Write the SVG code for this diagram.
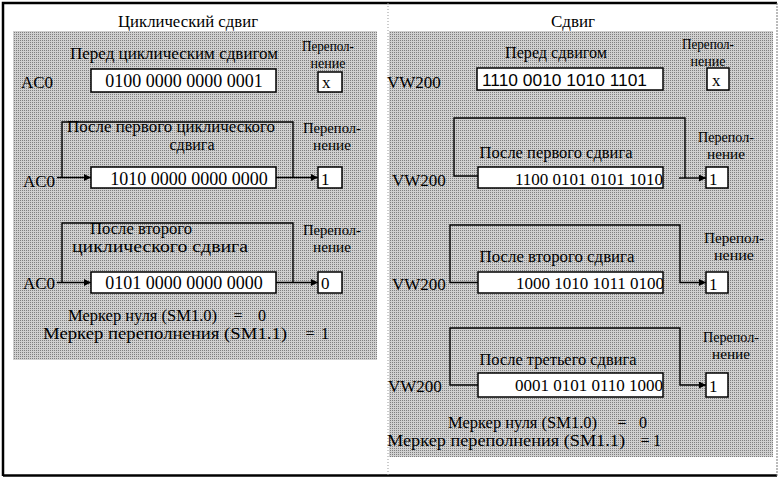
<svg xmlns="http://www.w3.org/2000/svg" width="780" height="478" viewBox="0 0 780 478">
  <defs>
    <pattern id="stipple" width="2" height="2" patternUnits="userSpaceOnUse">
      <rect width="2" height="2" fill="#d0d0d0"/>
      <rect width="1" height="1" fill="#808080"/>
    </pattern>
    <marker id="arr" viewBox="0 0 10 10" refX="10" refY="5" markerWidth="10" markerHeight="7" markerUnits="userSpaceOnUse" orient="auto">
      <path d="M0,0 L10,5 L0,10 z" fill="#000"/>
    </marker>
    <clipPath id="clipR2"><rect x="478" y="167" width="185" height="21"/></clipPath>
    <clipPath id="clipR3"><rect x="478" y="272" width="185" height="21"/></clipPath>
    <clipPath id="clipR4"><rect x="478" y="373" width="185" height="24"/></clipPath>
  </defs>
  <style>
    text { font-family: "Liberation Serif", "Times New Roman", serif; fill: #000; }
    .t { font-size: 17px; }
    .lbl { font-size: 17px; }
    .lbl2 { font-size: 16px; }
    .ovf { font-size: 15px; }
    .reg { font-size: 17px; }
    .bits { font-size: 18px; }
    .bits2 { font-size: 17px; }
    .sans { font-family: "Liberation Sans", Arial, sans-serif; font-size: 17px; }
    .panel { fill: url(#stipple); }
    .box { fill: #fff; stroke: #000; stroke-width: 1.5; }
    .wire { fill: none; stroke: #000; stroke-width: 1.4; }
    .frame { fill: none; stroke: #000; stroke-width: 2.5; }
  </style>

  <rect width="780" height="478" fill="#fff"/>

  <!-- outer frame and divider -->
  <path class="frame" d="M3,476 V3 H777"/>
  <path class="frame" d="M3,475.5 H777"/>
  <path d="M777,3 V476" stroke="#777" stroke-width="1" stroke-dasharray="2 1" fill="none"/>
  <path d="M388,3 V476" stroke="#999" stroke-width="1" stroke-dasharray="1 2" fill="none"/>

  <!-- stippled panels -->
  <rect class="panel" x="13" y="31" width="364" height="329"/>
  <rect class="panel" x="389" y="31" width="384" height="426"/>

  <!-- titles -->
  <text class="t" x="188" y="27" text-anchor="middle" textLength="140" lengthAdjust="spacingAndGlyphs">Циклический сдвиг</text>
  <text class="t" x="573" y="27" text-anchor="middle">Сдвиг</text>

  <!-- connectors -->
  <g id="connectors">
    <!-- rotate: first step -->
    <path class="wire" d="M57,177.5 H91" marker-end="url(#arr)"/>
    <path class="wire" d="M62,177.5 V122 H293 V177.5"/>
    <path class="wire" d="M276,177.5 H318" marker-end="url(#arr)"/>
    <!-- rotate: second step -->
    <path class="wire" d="M57,282.5 H91" marker-end="url(#arr)"/>
    <path class="wire" d="M62,282.5 V223 H293 V282.5"/>
    <path class="wire" d="M276,282.5 H318" marker-end="url(#arr)"/>
    <!-- shift: first step -->
    <path class="wire" d="M478,176 H454 V118 H685 V178"/>
    <path class="wire" d="M679,178 H706" marker-end="url(#arr)"/>
    <!-- shift: second step -->
    <path class="wire" d="M478,282.5 H450 V225 H680 V282.5 H706" marker-end="url(#arr)"/>
    <!-- shift: third step -->
    <path class="wire" d="M478,385 H450 V328 H680 V385 H706" marker-end="url(#arr)"/>
  </g>

  <!-- rotate: initial state -->
  <g id="rot-before">
    <text class="lbl" x="174" y="59" text-anchor="middle" textLength="208" lengthAdjust="spacingAndGlyphs">Перед циклическим сдвигом</text>
    <text class="reg" x="21" y="88">AC0</text>
    <rect class="box" x="91" y="69" width="185" height="23"/>
    <text class="bits" x="184" y="87" text-anchor="middle">0100 0000 0000 0001</text>
  </g>
  <g id="rot-before-ovf">
    <text class="ovf" x="328" y="51" text-anchor="middle" textLength="52" lengthAdjust="spacingAndGlyphs">Перепол-</text>
    <text class="ovf" x="328" y="68" text-anchor="middle" textLength="35" lengthAdjust="spacingAndGlyphs">нение</text>
    <rect class="box" x="318" y="72" width="24" height="20"/>
    <text class="reg" x="322" y="88">x</text>
  </g>

  <!-- rotate: after first -->
  <g id="rot-1">
    <text class="lbl2" x="171" y="132" text-anchor="middle" textLength="208" lengthAdjust="spacingAndGlyphs">После первого циклического</text>
    <text class="lbl2" x="192" y="150" text-anchor="middle">сдвига</text>
    <text class="reg" x="23" y="187">AC0</text>
    <rect class="box" x="91" y="167" width="185" height="21"/>
    <text class="bits" x="189" y="185" text-anchor="middle">1010 0000 0000 0000</text>
  </g>
  <g id="rot-1-ovf">
    <text class="ovf" x="332" y="133" text-anchor="middle" textLength="58" lengthAdjust="spacingAndGlyphs">Перепол-</text>
    <text class="ovf" x="332" y="150" text-anchor="middle" textLength="38" lengthAdjust="spacingAndGlyphs">нение</text>
    <rect class="box" x="318" y="167" width="24" height="21"/>
    <text class="reg" x="321" y="185">1</text>
  </g>

  <!-- rotate: after second -->
  <g id="rot-2">
    <text class="lbl2" x="141" y="234" text-anchor="middle" textLength="102" lengthAdjust="spacingAndGlyphs">После второго</text>
    <text class="lbl2" x="160" y="252" text-anchor="middle" textLength="176" lengthAdjust="spacingAndGlyphs">циклического сдвига</text>
    <text class="reg" x="23" y="289">AC0</text>
    <rect class="box" x="91" y="272" width="185" height="21"/>
    <text class="bits" x="184" y="289" text-anchor="middle">0101 0000 0000 0000</text>
  </g>
  <g id="rot-2-ovf">
    <text class="ovf" x="332" y="235" text-anchor="middle" textLength="58" lengthAdjust="spacingAndGlyphs">Перепол-</text>
    <text class="ovf" x="332" y="252" text-anchor="middle" textLength="38" lengthAdjust="spacingAndGlyphs">нение</text>
    <rect class="box" x="318" y="272" width="24" height="21"/>
    <text class="reg" x="321" y="289">0</text>
  </g>

  <!-- rotate: flags -->
  <g id="rot-flags">
    <text class="lbl2" x="68" y="321" textLength="149" lengthAdjust="spacingAndGlyphs">Меркер нуля (SM1.0)</text>
    <text class="lbl2" x="238" y="321" text-anchor="middle">=</text>
    <text class="lbl2" x="262" y="321" text-anchor="middle">0</text>
    <text class="lbl2" x="43" y="339" textLength="244" lengthAdjust="spacingAndGlyphs">Меркер переполнения (SM1.1)</text>
    <text class="lbl2" x="310" y="339" text-anchor="middle">=</text>
    <text class="lbl2" x="325" y="339" text-anchor="middle">1</text>
  </g>

  <!-- shift: initial state -->
  <g id="sh-before">
    <text class="lbl" x="556" y="58" text-anchor="middle" textLength="102" lengthAdjust="spacingAndGlyphs">Перед сдвигом</text>
    <text class="reg" x="387" y="88">VW200</text>
    <rect class="box" x="477" y="68" width="186" height="22"/>
    <text class="sans" x="482" y="86" textLength="165" lengthAdjust="spacingAndGlyphs">1110 0010 1010 1101</text>
  </g>
  <g id="sh-before-ovf">
    <text class="ovf" x="708" y="49" text-anchor="middle" textLength="52" lengthAdjust="spacingAndGlyphs">Перепол-</text>
    <text class="ovf" x="708" y="66" text-anchor="middle" textLength="35" lengthAdjust="spacingAndGlyphs">нение</text>
    <rect class="box" x="707" y="68" width="22" height="22"/>
    <text class="reg" x="712" y="86">x</text>
  </g>

  <!-- shift: after first -->
  <g id="sh-1">
    <text class="lbl" x="556" y="158" text-anchor="middle" textLength="153" lengthAdjust="spacingAndGlyphs">После первого сдвига</text>
    <text class="reg" x="392" y="186">VW200</text>
    <rect class="box" x="478" y="167" width="185" height="21"/>
    <text class="bits2" x="515" y="185" clip-path="url(#clipR2)">1100 0101 0101 1010</text>
  </g>
  <g id="sh-1-ovf">
    <text class="ovf" x="726" y="142" text-anchor="middle" textLength="56" lengthAdjust="spacingAndGlyphs">Перепол-</text>
    <text class="ovf" x="726" y="159" text-anchor="middle" textLength="38" lengthAdjust="spacingAndGlyphs">нение</text>
    <rect class="box" x="706" y="167" width="22" height="21"/>
    <text class="reg" x="709" y="185">1</text>
  </g>

  <!-- shift: after second -->
  <g id="sh-2">
    <text class="lbl" x="557" y="262" text-anchor="middle" textLength="155" lengthAdjust="spacingAndGlyphs">После второго сдвига</text>
    <text class="reg" x="392" y="290">VW200</text>
    <rect class="box" x="478" y="272" width="185" height="21"/>
    <text class="bits2" x="516" y="289" clip-path="url(#clipR3)">1000 1010 1011 0100</text>
  </g>
  <g id="sh-2-ovf">
    <text class="ovf" x="734" y="243" text-anchor="middle" textLength="60" lengthAdjust="spacingAndGlyphs">Перепол-</text>
    <text class="ovf" x="734" y="260" text-anchor="middle" textLength="40" lengthAdjust="spacingAndGlyphs">нение</text>
    <rect class="box" x="706" y="272" width="22" height="21"/>
    <text class="reg" x="709" y="290">1</text>
  </g>

  <!-- shift: after third -->
  <g id="sh-3">
    <text class="lbl" x="558" y="365" text-anchor="middle" textLength="157" lengthAdjust="spacingAndGlyphs">После третьего сдвига</text>
    <text class="reg" x="388" y="392">VW200</text>
    <rect class="box" x="478" y="373" width="185" height="24"/>
    <text class="bits2" x="515" y="391" clip-path="url(#clipR4)">0001 0101 0110 1000</text>
  </g>
  <g id="sh-3-ovf">
    <text class="ovf" x="731" y="342" text-anchor="middle" textLength="56" lengthAdjust="spacingAndGlyphs">Перепол-</text>
    <text class="ovf" x="731" y="359" text-anchor="middle" textLength="38" lengthAdjust="spacingAndGlyphs">нение</text>
    <rect class="box" x="706" y="373" width="22" height="24"/>
    <text class="reg" x="709" y="392">1</text>
  </g>

  <!-- shift: flags -->
  <g id="sh-flags">
    <text class="lbl2" x="448" y="428" textLength="149" lengthAdjust="spacingAndGlyphs">Меркер нуля (SM1.0)</text>
    <text class="lbl2" x="622" y="428" text-anchor="middle">=</text>
    <text class="lbl2" x="643" y="428" text-anchor="middle">0</text>
    <text class="lbl2" x="387" y="446" textLength="238" lengthAdjust="spacingAndGlyphs">Меркер переполнения (SM1.1)</text>
    <text class="lbl2" x="645" y="446" text-anchor="middle">=</text>
    <text class="lbl2" x="657" y="446" text-anchor="middle">1</text>
  </g>
</svg>
